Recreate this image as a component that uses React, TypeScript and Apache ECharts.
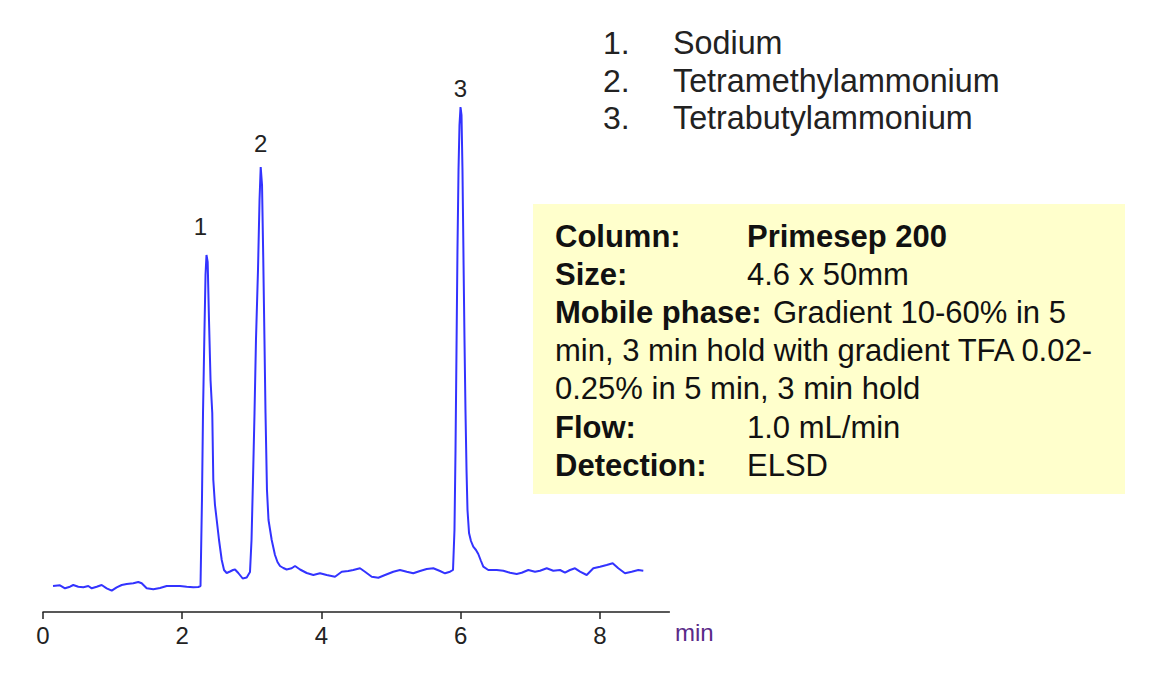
import React, { useEffect, useRef } from "react";
import * as echarts from "echarts";

// Retention time (min) and detector signal (arbitrary units)
const time = [
  0.144, 0.244, 0.316, 0.388, 0.435, 0.507, 0.579, 0.651, 0.7, 0.772, 0.843, 0.915, 0.987, 1.059,
  1.131, 1.203, 1.297, 1.369, 1.418, 1.49, 1.585, 1.681, 1.777, 1.872, 1.968, 2.065, 2.159, 2.231,
  2.263, 2.284, 2.299, 2.32, 2.335, 2.349, 2.366, 2.385, 2.407, 2.432, 2.447, 2.471, 2.496, 2.529,
  2.568, 2.601, 2.639, 2.687, 2.73, 2.759, 2.806, 2.869, 2.927, 2.974, 2.996, 3.017, 3.039, 3.06,
  3.089, 3.111, 3.128, 3.147, 3.165, 3.182, 3.197, 3.218, 3.24, 3.286, 3.333, 3.369, 3.405, 3.453,
  3.501, 3.573, 3.621, 3.693, 3.789, 3.884, 3.98, 4.076, 4.195, 4.292, 4.386, 4.458, 4.555, 4.626,
  4.723, 4.818, 4.914, 5.033, 5.129, 5.226, 5.32, 5.417, 5.513, 5.608, 5.704, 5.776, 5.848, 5.891,
  5.912, 5.927, 5.941, 5.955, 5.97, 5.984, 5.999, 6.013, 6.027, 6.042, 6.056, 6.07, 6.085, 6.099,
  6.121, 6.149, 6.182, 6.221, 6.254, 6.293, 6.326, 6.398, 6.519, 6.614, 6.71, 6.806, 6.878, 6.973,
  7.069, 7.141, 7.237, 7.332, 7.428, 7.5, 7.572, 7.644, 7.716, 7.812, 7.907, 8.003, 8.099, 8.185,
  8.266, 8.362, 8.458, 8.553, 8.625,
];
const signal = [
  26, 26.7, 23.7, 25.3, 27, 25.3, 24.7, 26, 23.7, 25.3, 27, 23.7, 21.3, 24.7,
  27, 28, 28.7, 30, 28.7, 23.7, 22.7, 24, 26, 26, 26, 25.3, 24.7, 25,
  26, 112, 199, 282, 337, 357, 350, 292, 232, 199, 132, 107, 92, 72,
  52, 42, 39, 40.5, 42, 42.5, 39, 33.5, 34.5, 40, 72, 132, 199, 272,
  342, 412, 445, 427, 352, 272, 199, 122, 92, 72, 57, 50, 46, 44,
  42.5, 43.7, 46, 42.5, 39, 37, 38.7, 37, 35.3, 40.3, 41, 42, 43.7, 40.3,
  35.3, 34.3, 37, 40.3, 42, 40.3, 38.7, 41, 43, 43.7, 41, 38.7, 40.3, 42,
  82, 162, 262, 362, 442, 487, 505, 497, 442, 352, 272, 202, 142, 102,
  79, 71, 65.3, 62, 58, 51, 45.3, 42, 42, 41.3, 39.3, 38, 39.3, 42,
  40.3, 41.3, 43.7, 41.3, 42, 39.3, 42, 43.7, 40.3, 37, 43.7, 45.3, 47, 48.7,
  43.7, 38.7, 40.3, 42, 41.3,
];

// Peak annotations
const peakNames = ["1", "2", "3"];
const peakTimes = [2.349, 3.128, 5.999];
const peakHeights = [357, 445, 505];

// Compound list
const compoundNumbers = ["1.", "2.", "3."];
const compoundNames = ["Sodium", "Tetramethylammonium", "Tetrabutylammonium"];

// Conditions box
const conditionLabels = ["Column:", "Size:", "Mobile phase:", "", "", "Flow:", "Detection:"];
const conditionValues = [
  "Primesep 200",
  "4.6 x 50mm",
  "Gradient 10-60% in 5",
  "min, 3 min hold with gradient TFA 0.02-",
  "0.25% in 5 min, 3 min hold",
  "1.0 mL/min",
  "ELSD",
];

const xTicks = { min: 0, max: 9, interval: 2 };

const FONT = "Liberation Sans, Arial, sans-serif";

export default function App() {
  const ref = useRef<HTMLDivElement>(null);

  useEffect(() => {
    document.body.style.margin = "0";
    if (!ref.current) return;
    const chart = echarts.init(ref.current, undefined, { renderer: "svg" });

    const data = time.map((t, i) => [t, signal[i]]);
    const labelOffsets = [
      [-6, -29],
      [0, -24],
      [0, -19],
    ];

    const graphics: any[] = [];
    compoundNumbers.forEach((n, i) => {
      const y = 43 + i * 37.5;
      graphics.push({
        type: "text",
        x: 603,
        y,
        style: { text: n, fill: "#222", fontSize: 32, fontFamily: FONT, textAlign: "left", textVerticalAlign: "middle" },
      });
      graphics.push({
        type: "text",
        x: 673,
        y,
        style: { text: compoundNames[i], fill: "#222", fontSize: 32.3, fontFamily: FONT, textAlign: "left", textVerticalAlign: "middle" },
      });
    });

    graphics.push({
      type: "rect",
      shape: { x: 533, y: 204, width: 592, height: 290 },
      style: { fill: "#ffffcc" },
      z: 1,
    });

    conditionLabels.forEach((lab, i) => {
      const y = 236 + i * 38.2;
      if (lab) {
        graphics.push({
          type: "text",
          x: 555,
          y,
          z: 2,
          style: { text: lab, fill: "#111", fontSize: 31, fontWeight: "bold", fontFamily: FONT, textAlign: "left", textVerticalAlign: "middle" },
        });
      }
      const vx = lab === "" ? 555 : lab === "Mobile phase:" ? 773 : 747;
      graphics.push({
        type: "text",
        x: vx,
        y,
        z: 2,
        style: {
          text: conditionValues[i],
          fill: "#111",
          fontSize: 31,
          fontWeight: i === 0 ? "bold" : "normal",
          fontFamily: FONT,
          textAlign: "left",
          textVerticalAlign: "middle",
        },
      });
    });

    graphics.push({
      type: "text",
      x: 675,
      y: 632,
      style: { text: "min", fill: "#5a2a88", fontSize: 24, fontFamily: FONT, textAlign: "left", textVerticalAlign: "middle" },
    });

    chart.setOption({
      animation: false,
      backgroundColor: "#ffffff",
      grid: { left: 43, right: 488.6, top: 100, bottom: 88, containLabel: false },
      xAxis: {
        type: "value",
        min: xTicks.min,
        max: xTicks.max,
        interval: xTicks.interval,
        axisLine: { show: true, lineStyle: { color: "#222", width: 1.5 } },
        axisTick: { show: true, length: 7, lineStyle: { color: "#222", width: 1.5 } },
        axisLabel: { fontSize: 24, color: "#222", margin: 11, fontFamily: FONT, showMaxLabel: false },
        splitLine: { show: false },
      },
      yAxis: { type: "value", min: 0, max: 512, show: false },
      series: [
        {
          type: "line",
          data,
          showSymbol: false,
          symbol: "none",
          lineStyle: { color: "#3333ff", width: 2 },
          markPoint: {
            symbol: "circle",
            symbolSize: 1,
            itemStyle: { color: "rgba(0,0,0,0)" },
            label: { show: true, position: "inside", formatter: "{b}", color: "#222", fontSize: 24, fontFamily: FONT },
            data: peakNames.map((n, i) => ({
              name: n,
              coord: [peakTimes[i], peakHeights[i]],
              label: { offset: labelOffsets[i] },
            })),
          },
        },
      ],
      graphic: graphics,
    });

    return () => chart.dispose();
  }, []);

  return <div ref={ref} style={{ width: 1158, height: 700 }} />;
}
